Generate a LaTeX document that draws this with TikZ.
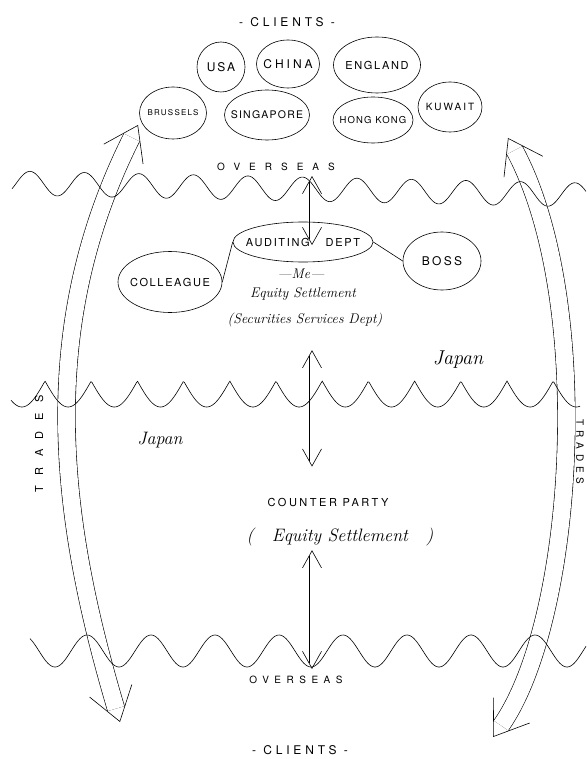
\documentclass[tikz,border=0pt]{standalone}
\usepackage{fontspec}
\setsansfont{TeX Gyre Heros}
\usepackage{tikz}
\usetikzlibrary{arrows.meta,positioning,shapes.geometric,backgrounds}
\tikzset{
  place/.style={ellipse, draw=black, line width=0.6pt, inner xsep=-14pt, inner ysep=0pt, font=\sffamily\fontsize{11}{13}\selectfont\addfontfeature{LetterSpace=15}},
  capslabel/.style={inner sep=1pt, font=\sffamily\fontsize{11}{13}\selectfont\addfontfeature{LetterSpace=23}},
  widecaps/.style={inner sep=1pt, font=\sffamily\fontsize{10}{12}\selectfont\addfontfeature{LetterSpace=90}},
  handlabel/.style={inner sep=1pt, font=\itshape\fontsize{14}{16}\selectfont},
  waveline/.style={line width=0.6pt},
  linkline/.style={line width=0.6pt},
  dblshaft/.style={draw=black, line width=0.6pt, double=white, double distance=5pt, shorten <=6pt, shorten >=6pt},
  dbltips/.style={draw=white, line width=0.1pt, {Straight Barb[color=black, length=17pt, width=19pt, line width=0.6pt]}-{Straight Barb[color=black, length=17pt, width=19pt, line width=0.6pt]}},
  tradeshaft/.style={dblshaft, double distance=17pt, shorten <=14pt, shorten >=14pt},
  tradetips/.style={draw=white, line width=0.1pt, {Straight Barb[color=black, length=32pt, width=44pt, line width=0.6pt]}-{Straight Barb[color=black, length=32pt, width=44pt, line width=0.6pt]}}
}

\begin{document}
\begin{tikzpicture}[x=1pt, y=-1pt]
\useasboundingbox (0,0) rectangle (586,759);

% clients overseas
\node[capslabel, font=\sffamily\fontsize{12}{14}\selectfont\addfontfeature{LetterSpace=32}] (clientstop) at (287,22) {- CLIENTS -};
\node[place, minimum width=48pt, minimum height=50pt, font=\sffamily\fontsize{12}{14}\selectfont\addfontfeature{LetterSpace=15}] (usa) at (221,67) {USA};
\node[place, minimum width=63pt, minimum height=48pt, font=\sffamily\fontsize{12}{14}\selectfont\addfontfeature{LetterSpace=25}] (china) at (288,64) {CHINA};
\node[place, minimum width=87pt, minimum height=56pt] (england) at (377,65) {ENGLAND};
\node[place, minimum width=67pt, minimum height=52pt, font=\sffamily\fontsize{8}{10}\selectfont\addfontfeature{LetterSpace=15}] (brussels) at (173,113) {BRUSSELS};
\node[place, minimum width=85pt, minimum height=50pt, font=\sffamily\fontsize{10.5}{12}\selectfont\addfontfeature{LetterSpace=12}] (singapore) at (267,115) {SINGAPORE};
\node[place, minimum width=80pt, minimum height=46pt, font=\sffamily\fontsize{9.5}{12}\selectfont\addfontfeature{LetterSpace=12}] (hongkong) at (373,120) {HONG KONG};
\node[place, minimum width=64pt, minimum height=50pt, font=\sffamily\fontsize{10}{12}\selectfont\addfontfeature{LetterSpace=20}] (kuwait) at (450,107) {KUWAIT};
\node[widecaps] (ovtop) at (276,167) {OVERSEAS};

% me and the people around
\node[place, minimum width=140pt, minimum height=40pt] (audit) at (303,242) {AUDITING\hspace{16pt}DEPT};
\node[handlabel] (me) at (301,274) {---Me---};
\node[handlabel] (eqset) at (303,294) {Equity Settlement};
\node[handlabel] (secdept) at (305,320) {(Securities Services Dept)};
\node[place, minimum width=104pt, minimum height=61pt] (colleague) at (170,282) {COLLEAGUE};
\node[place, minimum width=78pt, minimum height=58pt, font=\sffamily\fontsize{12}{14}\selectfont\addfontfeature{LetterSpace=20}] (boss) at (442,261) {BOSS};
\draw[linkline] (colleague.east) -- (audit.west);
\draw[linkline] (audit.east) -- (boss.west);

% japan side
\node[handlabel, font=\itshape\fontsize{20}{22}\selectfont] (japanup) at (458,360) {Japan};
\node[handlabel, font=\itshape\fontsize{18}{20}\selectfont] (japandown) at (160,440) {Japan};
\node[capslabel] (counter) at (328,502) {COUNTER PARTY};
\node[handlabel, font=\itshape\fontsize{18}{20}\selectfont] (eqcp) at (340,537) {(\quad Equity Settlement\quad)};
\node[capslabel, font=\sffamily\fontsize{10}{12}\selectfont\addfontfeature{LetterSpace=55}] (ovbot) at (296,680) {OVERSEAS};
\node[capslabel, font=\sffamily\fontsize{12}{14}\selectfont\addfontfeature{LetterSpace=32}] (clientsbot) at (300,750) {- CLIENTS -};
\node[widecaps, font=\sffamily\fontsize{11}{13}\selectfont\addfontfeature{LetterSpace=95}, rotate=90] (tradesleft) at (39,444) {TRADES};
\node[capslabel, rotate=-90, font=\sffamily\fontsize{10}{12}\selectfont\addfontfeature{LetterSpace=49}] (tradesright) at (580,452) {TRADES};

% sea lines
\draw[waveline] plot[domain=12:586, samples=400] (\x, {183 + 12*(\x-12)/574 - 12*cos(((\x-30)/54.5)*360)});
\draw[waveline] plot[domain=11:580, samples=500] (\x, {394 - 13*(1 - 2*abs(sin(((\x-45)/46.2)*180)))});
\draw[waveline] plot[domain=30:586, samples=400] (\x, {651 - 16*cos(((\x-87)/64)*360)});

% double arrows
\coordinate (axis) at (312,0);
\coordinate (ltop) at (138,125);
\coordinate (lbot) at (120,722);
\coordinate (rtop) at (508,138);
\coordinate (rbot) at (493,737);
\begin{scope}[on background layer]
\draw[dblshaft] ([yshift=-4pt]ovtop.south -| axis) -- ([yshift=-3pt]audit.center -| axis);
\draw[dbltips] ([yshift=-4pt]ovtop.south -| axis) -- ([yshift=-3pt]audit.center -| axis);
\draw[dblshaft] ([yshift=-22pt]secdept.south -| axis) -- ([yshift=30pt]counter.north -| axis);
\draw[dbltips] ([yshift=-22pt]secdept.south -| axis) -- ([yshift=30pt]counter.north -| axis);
\draw[dblshaft] ([yshift=-3pt]eqcp.south -| axis) -- ([yshift=6pt]ovbot.north -| axis);
\draw[dbltips] ([yshift=-3pt]eqcp.south -| axis) -- ([yshift=6pt]ovbot.north -| axis);
\draw[tradeshaft] (lbot) .. controls (60,520) and (35,330) .. (ltop);
\draw[tradetips] (lbot) .. controls (60,520) and (35,330) .. (ltop);
\draw[tradeshaft] (rbot) .. controls (575,620) and (595,300) .. (rtop);
\draw[tradetips] (rbot) .. controls (575,620) and (595,300) .. (rtop);
\end{scope}
\end{tikzpicture}
\end{document}
